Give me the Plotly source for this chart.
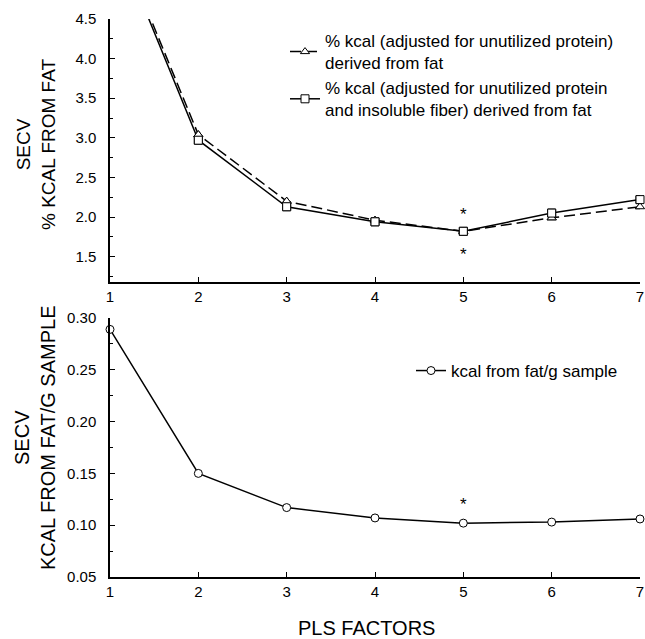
import plotly.graph_objects as go

# ---- data ----
pls_factors = [1, 2, 3, 4, 5, 6, 7]
tick_labels = ["1", "2", "3", "4", "5", "6", "7"]

pct_kcal_protein = [5.75, 3.04, 2.20, 1.96, 1.82, 1.99, 2.13]
pct_kcal_protein_fiber = [5.70, 2.97, 2.13, 1.94, 1.82, 2.05, 2.22]
kcal_fat_per_g = [0.289, 0.150, 0.117, 0.107, 0.102, 0.103, 0.106]

top_star_x = [5, 5]
top_star_y = [2.02, 1.51]
bot_star_x = [5]
bot_star_y = [0.119]

top_yticks = [1.5, 2.0, 2.5, 3.0, 3.5, 4.0, 4.5]
top_yticklabels = ["1.5", "2.0", "2.5", "3.0", "3.5", "4.0", "4.5"]
bot_yticks = [0.05, 0.10, 0.15, 0.20, 0.25, 0.30]
bot_yticklabels = ["0.05", "0.10", "0.15", "0.20", "0.25", "0.30"]

TOP_RANGE = [1.18, 4.5]
BOT_RANGE = [0.05, 0.30]

FONT = "Liberation Sans, Arial, sans-serif"
W, H = 645, 639


def px_x(v):
    return v / W


def px_y(v):
    return 1 - v / H


def in_range(vals, rng):
    return [v if rng[0] <= v <= rng[1] else None for v in vals]


fig = go.Figure()

tri_marker = dict(symbol="triangle-up", size=8, color="white", line=dict(color="black", width=1))
sq_marker = dict(symbol="square", size=8, color="white", line=dict(color="black", width=1))

fig.add_trace(go.Scatter(
    x=pls_factors, y=pct_kcal_protein, mode="lines+markers",
    name="% kcal (adjusted for unutilized protein)<br>derived from fat",
    line=dict(color="black", width=1.5, dash="11px,5px"), marker=tri_marker,
    xaxis="x", yaxis="y", legend="legend", cliponaxis=True,
))
fig.add_trace(go.Scatter(
    x=pls_factors, y=pct_kcal_protein_fiber, mode="lines+markers",
    name="% kcal (adjusted for unutilized protein<br>and insoluble fiber) derived from fat",
    line=dict(color="black", width=1.5), marker=sq_marker,
    xaxis="x", yaxis="y", legend="legend", cliponaxis=True,
))
# unclipped marker overlays (so markers at the plot edge are drawn whole)
fig.add_trace(go.Scatter(
    x=pls_factors, y=in_range(pct_kcal_protein, TOP_RANGE), mode="markers", marker=tri_marker,
    showlegend=False, xaxis="x", yaxis="y", cliponaxis=False,
))
fig.add_trace(go.Scatter(
    x=pls_factors, y=in_range(pct_kcal_protein_fiber, TOP_RANGE), mode="markers", marker=sq_marker,
    showlegend=False, xaxis="x", yaxis="y", cliponaxis=False,
))
fig.add_trace(go.Scatter(
    x=top_star_x, y=top_star_y, mode="text", text=["*"] * len(top_star_x),
    textfont=dict(size=17, color="black", family=FONT), textposition="middle center",
    showlegend=False, xaxis="x", yaxis="y",
))
fig.add_trace(go.Scatter(
    x=pls_factors, y=kcal_fat_per_g, mode="lines+markers",
    name="kcal from fat/g sample",
    line=dict(color="black", width=1.5),
    marker=dict(symbol="circle", size=8, color="white", line=dict(color="black", width=1)),
    xaxis="x2", yaxis="y2", legend="legend2", cliponaxis=False,
))
fig.add_trace(go.Scatter(
    x=bot_star_x, y=bot_star_y, mode="text", text=["*"] * len(bot_star_x),
    textfont=dict(size=17, color="black", family=FONT), textposition="middle center",
    showlegend=False, xaxis="x2", yaxis="y2",
))

xdom = [px_x(110), px_x(640)]
top_dom = [px_y(282), px_y(19)]
bot_dom = [px_y(577), px_y(318)]

axis_common = dict(showline=True, linecolor="black", linewidth=1.5, showgrid=False,
                   zeroline=False, automargin=False, ticks="inside", tickcolor="black",
                   tickwidth=1, ticklen=5,
                   tickfont=dict(size=15, color="black", family=FONT))

fig.update_layout(
    template="none",
    width=W, height=H,
    margin=dict(l=0, r=0, t=0, b=0, pad=0),
    paper_bgcolor="white", plot_bgcolor="white",
    font=dict(family=FONT, color="black"),
    xaxis=dict(domain=xdom, range=[1, 7], anchor="y", tickvals=pls_factors, ticktext=tick_labels,
               **axis_common),
    yaxis=dict(domain=top_dom, range=TOP_RANGE, anchor="x", tickvals=top_yticks,
               ticktext=top_yticklabels, ticklabelstandoff=9,
               minor=dict(dtick=0.25, tick0=0, ticks="inside", ticklen=3, tickcolor="black"),
               **axis_common),
    xaxis2=dict(domain=xdom, range=[1, 7], anchor="y2", tickvals=pls_factors, ticktext=tick_labels,
                **axis_common),
    yaxis2=dict(domain=bot_dom, range=BOT_RANGE, anchor="x2", tickvals=bot_yticks,
                ticktext=bot_yticklabels, ticklabelstandoff=9,
                minor=dict(dtick=0.025, tick0=0, ticks="inside", ticklen=3, tickcolor="black"),
                **axis_common),
    legend=dict(x=px_x(285), y=px_y(23), xanchor="left", yanchor="top",
                bgcolor="rgba(0,0,0,0)", font=dict(size=17, family=FONT, color="black"),
                tracegroupgap=0, itemwidth=30),
    legend2=dict(x=px_x(411), y=px_y(353), xanchor="left", yanchor="top",
                 bgcolor="rgba(0,0,0,0)", font=dict(size=17, family=FONT, color="black")),
    annotations=[
        dict(text="SECV<br>% KCAL FROM FAT", x=px_x(36), y=px_y(145), xref="paper", yref="paper",
             xanchor="center", yanchor="middle",
             textangle=-90, showarrow=False, font=dict(size=19, family=FONT, color="black")),
        dict(text="SECV<br>KCAL FROM FAT/G SAMPLE", x=px_x(35), y=px_y(438), xref="paper", yref="paper",
             xanchor="center", yanchor="middle",
             textangle=-90, showarrow=False, font=dict(size=20, family=FONT, color="black")),
        dict(text="PLS FACTORS", x=px_x(366), y=0, xref="paper", yref="paper",
             xanchor="center", yanchor="bottom", yshift=-2,
             showarrow=False, font=dict(size=20, family=FONT, color="black")),
    ],
)

fig.write_html(
    "out.html",
    config={"displayModeBar": False},
    post_script="document.body.style.margin='0px';document.documentElement.style.overflow='hidden';",
)
